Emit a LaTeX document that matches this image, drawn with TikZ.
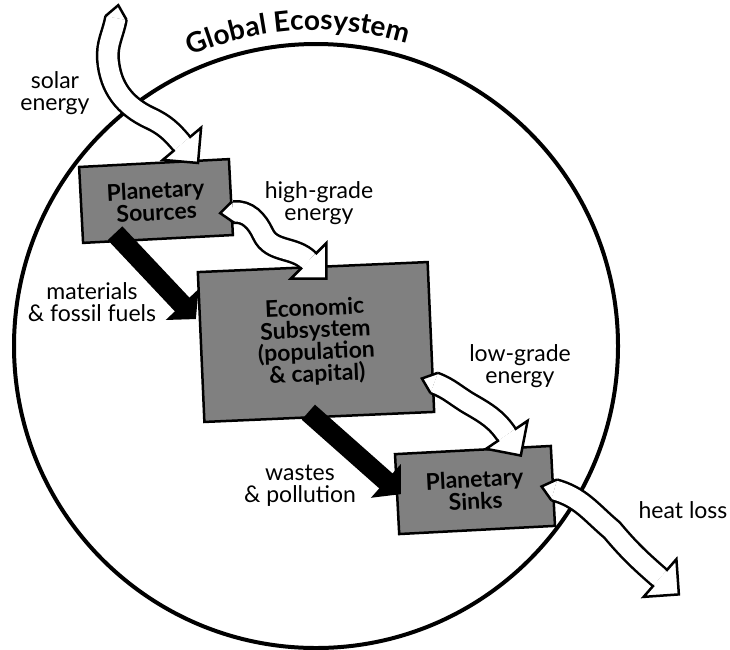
\documentclass[tikz,border=0pt]{standalone}
\usepackage{fontspec}
\setmainfont{Lato}
\usetikzlibrary{arrows.meta,decorations.text}
\definecolor{stipple}{gray}{0.5}

% white flow arrows: head and pointed tail
\newcommand{\fathead}[2]{%
\begin{scope}[shift={(#1)},rotate=#2]
\fill[white] (0,25) -- (25,0) -- (0,-25) -- cycle;
\draw[line width=2.5pt,line join=miter] (0,9.5) -- (0,25) -- (25,0) -- (0,-25) -- (0,-9.5);
\end{scope}}
\newcommand{\fattail}[2]{%
\begin{scope}[shift={(#1)},rotate=#2]
\fill[white] (0,11) -- (-13,0) -- (0,-11) -- cycle;
\draw[line width=2.5pt] (0,10.75) -- (-13,0) -- (0,-10.75);
\end{scope}}

\begin{document}
\begin{tikzpicture}[x=1pt,y=1pt,
 box/.style={draw,line width=2.5pt,fill=stipple,font=\fontsize{23}{22}\selectfont\bfseries,align=center,inner sep=0pt},
 lbl/.style={font=\fontsize{23}{22}\selectfont,align=center},
 fat/.style={line width=2.5pt,double=white,double distance=19pt},
 blk/.style={line width=20pt,-{Triangle[length=20pt,width=44pt]}}]
\useasboundingbox (0,0) rectangle (730,-649);
\coordinate (ctr) at (316,-346);
\draw[line width=4pt] (ctr) circle[radius=302];
\path[decorate,decoration={text along path,text align=center,
 text={|\fontsize{28}{28}\selectfont\bfseries|Global Ecosystem}}]
 ([shift={(ctr)}]126:316) arc[start angle=126,end angle=60.6,radius=316];
% boxes
\node[box,minimum width=150pt,minimum height=76pt,rotate=3] (src) at (156,-201) {Planetary\\Sources};
\node[box,minimum width=230pt,minimum height=150pt,rotate=2.5] (eco) at (316,-342) {Economic\\Subsystem\\(population\\\& capital)};
\node[box,minimum width=156pt,minimum height=80pt,rotate=3] (snk) at (475,-490) {Planetary\\Sinks};
% ends of the flows
\coordinate (solT) at (116,-18);
\coordinate (solH) at ([shift={(28,18)}]src.north);
\coordinate (hgT) at ([shift={(1,-15)}]src.east);
\coordinate (hgH) at ([shift={(-4,5)}]eco.north);
\coordinate (lgT) at ([shift={(2,-46)}]eco.east);
\coordinate (lgH) at ([shift={(34,14)}]snk.north);
\coordinate (htT) at ([shift={(0,-4)}]snk.east);
\coordinate (htH) at (660,-578);
\coordinate (matT) at ([shift={(-43,7)}]src.south);
\coordinate (matH) at ([shift={(-4,28)}]eco.west);
\coordinate (wasT) at ([shift={(-11,6)}]eco.south);
\coordinate (wasH) at ([shift={(5,0)}]snk.west);
% material flows
\draw[blk] (matT) -- (matH);
\draw[blk] (wasT) -- (wasH);
% energy flows
\draw[fat] (solT) to[out=-100,in=95] (108,-60) to[out=-85,in=155] (150,-118) to[out=-25,in=130] (solH);
\draw[fat] (hgT) to[out=5,in=115] (263,-234) to[out=-65,in=135] (hgH);
\draw[fat] (lgT) to[out=-20,in=150] (470,-404) to[out=-30,in=124] (lgH);
\draw[fat] (htT) to[out=-15,in=140] (612,-530) to[out=-50,in=139] (htH);
\fathead{solH}{-50}\fattail{solT}{-100}
\fathead{hgH}{-45}\fattail{hgT}{5}
\fathead{lgH}{-56}\fattail{lgT}{-20}
\fathead{htH}{-41}\fattail{htT}{-15}
% labels
\node[lbl] (solL) at (55,-93) {solar\\energy};
\node[lbl] (hgL) at (319,-203) {high-grade\\energy};
\node[lbl] (matL) at (92,-302) {materials\\\& fossil fuels};
\node[lbl] (lgL) at (520,-366) {low-grade\\energy};
\node[lbl] (wasL) at (300,-486) {wastes\\\& pollution};
\node[lbl] (htL) at (683,-510) {heat loss};
\end{tikzpicture}
\end{document}
